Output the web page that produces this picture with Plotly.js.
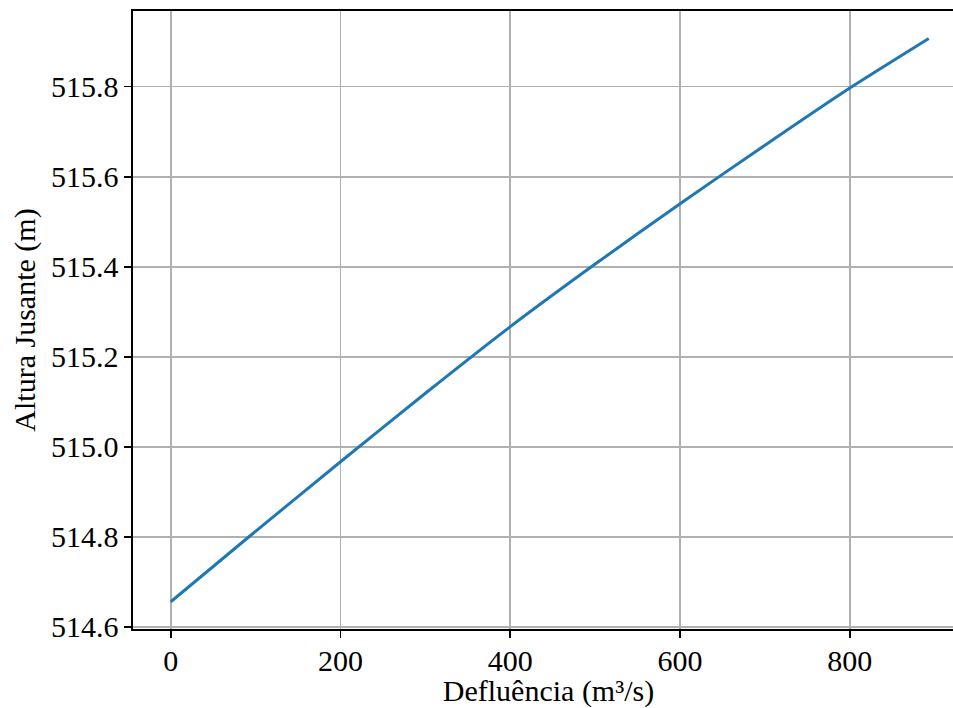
<!DOCTYPE html>
<html>
<head>
<meta charset="utf-8">
<script src="https://cdn.plot.ly/plotly-3.0.1.min.js"></script>
<style>
html, body { margin: 0; padding: 0; width: 953px; height: 708px; overflow: hidden; background: #fff; }
#chart { width: 970px; height: 708px; }
</style>
</head>
<body>
<div id="chart"></div>
<script>
// Data
const defluencia = [0, 90, 200, 300, 400, 500, 600, 700, 800, 893];
const alturaJusante = [514.656, 514.797, 514.967, 515.119, 515.267, 515.406, 515.540, 515.670, 515.797, 515.907];
const xTickVals = [0, 200, 400, 600, 800];
const yTickVals = [514.6, 514.8, 515.0, 515.2, 515.4, 515.6, 515.8];
const xTitle = "Defluência (m³/s)";
const yTitle = "Altura Jusante (m)";

const font = { family: "Liberation Serif, Times New Roman, serif", size: 30, color: "#000" };

const trace = {
  x: defluencia,
  y: alturaJusante,
  type: "scatter",
  mode: "lines",
  line: { color: "#1f77b4", width: 3, shape: "spline", smoothing: 0.6 },
  hoverinfo: "skip"
};

const axisCommon = {
  showline: true,
  linecolor: "#000",
  linewidth: 1.6,
  mirror: true,
  ticks: "outside",
  ticklen: 7,
  tickwidth: 1.6,
  tickcolor: "#000",
  showgrid: true,
  gridcolor: "#b0b0b0",
  gridwidth: 1.6,
  zeroline: false,
  tickfont: font
};

const layout = {
  width: 970,
  height: 708,
  paper_bgcolor: "#fff",
  plot_bgcolor: "#fff",
  margin: { l: 133, r: 6, t: 11, b: 79 },
  showlegend: false,
  font: font,
  xaxis: Object.assign({}, axisCommon, {
    range: [-44.5, 934.5],
    tickvals: xTickVals,
    ticktext: xTickVals.map(String),
    ticklabelstandoff: -3,
    title: { text: xTitle, font: font, standoff: 5 }
  }),
  yaxis: Object.assign({}, axisCommon, {
    range: [514.5955, 515.968],
    tickvals: yTickVals,
    ticktext: yTickVals.map(v => v.toFixed(1)),
    title: { text: yTitle, font: font, standoff: 6 }
  })
};

Plotly.newPlot("chart", [trace], layout, { staticPlot: true, displayModeBar: false });
</script>
</body>
</html>
